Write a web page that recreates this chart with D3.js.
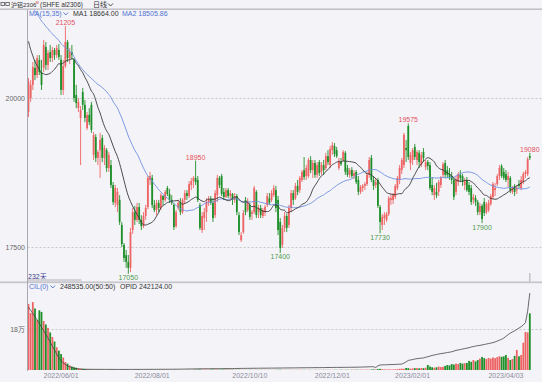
<!DOCTYPE html>
<html><head><meta charset="utf-8">
<script src="https://cdn.jsdelivr.net/npm/d3@7"></script>
<style>html,body{margin:0;padding:0;background:#f4f4f8;}svg{display:block;font-family:"Liberation Sans","Noto Sans CJK SC",Arial,sans-serif;}</style>
</head><body><svg id="c" width="542" height="382"></svg>
<script>
// ---------------- DATA ----------------
const openP=[19765,20000,20220,20505,20385,20640,20435,20505,20855,20555,20770,20670,20805,20720,20805,20640,20135,20535,20940,20670,20770,20640,20050,19830,19665,20100,19885,19495,19715,19885,19045,19345,18995,19125,19330,18995,19125,18825,18875,18540,18240,18205,18290,17870,17535,17365,17250,17150,17785,18085,17955,18170,17955,17850,18020,18170,18625,18660,18205,18120,18240,18155,18355,18290,18490,18390,18290,18205,17850,18155,18255,18085,18290,18405,18355,18540,18605,18660,18625,18205,17785,17985,18085,18255,18305,18240,18035,18370,18660,18690,18425,18340,18455,18355,18390,18290,18355,18035,17615,17750,18290,18120,18205,18055,18085,18425,18085,18155,18020,18085,18205,18320,18290,18370,18455,18290,17920,17535,17820,18020,17870,18155,18405,18320,18525,18455,18625,18790,18690,18690,18960,18790,18910,18710,18925,18760,18875,18825,19025,18875,19125,19195,19125,18825,18925,18960,19080,18825,18710,18790,18690,18760,18625,18425,18490,18525,18555,18710,18995,18625,18540,18625,18170,17870,17985,17955,18055,18290,18290,18340,18490,18625,18790,18875,19160,19530,18910,18960,19180,18960,19080,18875,19095,18840,18925,18875,18540,18370,18425,18425,18540,18710,18910,18790,18725,18690,18625,18425,18590,18710,18690,18540,18625,18540,18490,18290,18320,18255,18085,18190,18255,18085,18120,18220,18340,18455,18555,18690,18860,18760,18725,18625,18660,18425,18525,18455,18555,18490,18590,18725,18725,19025];
const highP=[20335,20300,20605,20640,20720,20720,20640,20975,20940,20805,20890,20855,20840,20890,20905,20720,20640,21205,20975,20840,20890,20670,20220,20000,19865,20170,19965,19765,19830,19935,19430,19395,19125,19415,19380,19210,19160,19095,18960,18590,18540,18490,18370,17920,17565,17450,17365,17820,18155,18190,18240,18240,18035,18085,18205,18690,18760,18710,18290,18290,18290,18405,18370,18455,18525,18475,18370,18240,18120,18290,18320,18320,18455,18455,18605,18660,18690,18950,18690,18240,18085,18155,18320,18355,18355,18320,18455,18710,18690,18725,18490,18490,18490,18455,18405,18405,18390,18085,17750,18120,18340,18320,18240,18120,18525,18455,18205,18205,18155,18205,18405,18405,18455,18540,18525,18355,17985,17870,18085,18055,18205,18455,18455,18575,18625,18690,18790,19010,18875,18995,19025,18960,18960,18925,18960,18925,18960,19080,19125,19195,19260,19245,19180,18995,18995,19125,19110,18875,18825,18840,18790,18790,18690,18540,18555,18590,18760,19010,19045,18690,18660,18660,18205,18055,18085,18085,18355,18390,18405,18555,18690,18875,18995,19415,19295,19575,19095,19160,19230,19125,19125,19095,19160,18960,18960,18925,18675,18540,18575,18625,18690,18925,18960,18860,18825,18760,18660,18690,18760,18790,18725,18660,18675,18590,18540,18390,18370,18290,18240,18220,18320,18255,18290,18390,18590,18575,18725,18875,18890,18825,18790,18760,18690,18525,18555,18540,18625,18690,18760,18790,19010,19080];
const lowP=[19680,19935,20135,20300,20335,20385,20135,20435,20470,20470,20605,20605,20640,20670,20640,20050,20050,20505,20605,20570,20640,19935,19830,19765,18875,19800,19595,19465,19545,19415,18960,18925,18875,18660,18925,18875,18760,18760,18490,18205,18170,18085,17870,17500,17250,17150,17050,17080,17720,17870,17920,17885,17785,17820,17955,18135,18540,18155,18085,18035,18085,18120,18205,18255,18355,18240,18205,17785,17820,18120,18035,18055,18220,18290,18320,18455,18490,18540,18255,17785,17735,17785,17920,18190,18205,17920,17985,18255,18490,18355,18290,18320,18320,18290,18205,18240,18035,17700,17585,17720,18035,18085,17955,17955,18055,17985,17985,17985,17985,18020,18170,18205,18255,18340,18085,17700,17400,17485,17750,17750,17820,18085,18205,18290,18370,18405,18590,18625,18625,18660,18740,18660,18660,18660,18690,18710,18710,18790,18875,18825,19045,19010,18995,18790,18860,18925,18710,18675,18660,18660,18640,18555,18370,18390,18425,18455,18525,18660,18590,18455,18490,18155,17730,17785,17870,17920,18020,18205,18220,18305,18455,18555,18725,18825,18925,18960,18790,18875,18960,18875,18825,18840,18925,18790,18790,18455,18370,18290,18320,18355,18490,18675,18660,18660,18625,18555,18290,18370,18525,18590,18525,18455,18425,18370,18205,18220,18190,18035,18035,17900,18020,18055,18085,18190,18305,18355,18525,18625,18660,18625,18590,18505,18405,18390,18355,18390,18490,18455,18555,18660,18690,18960];
const closeP=[20270,20220,20520,20385,20670,20435,20220,20890,20555,20755,20670,20805,20720,20840,20690,20135,20535,20940,20670,20770,20720,20000,19915,19935,19800,19885,19665,19715,19595,19465,19380,18995,19095,19295,18995,19160,18825,19045,18540,18255,18490,18425,17920,17550,17315,17250,17150,17750,18085,17955,18170,17955,17850,18020,18155,18660,18690,18205,18120,18240,18155,18370,18290,18425,18390,18290,18240,17835,18085,18240,18085,18290,18405,18355,18555,18605,18660,18590,18290,17820,18020,18085,18255,18305,18240,17985,18405,18660,18540,18390,18340,18455,18355,18405,18290,18355,18085,17750,17700,18070,18085,18270,18005,18085,18490,18035,18155,18035,18120,18170,18355,18240,18405,18490,18155,17785,17485,17820,18020,17820,18155,18405,18290,18525,18425,18660,18760,18675,18825,18960,18790,18910,18710,18875,18740,18875,18790,19025,18925,19145,19210,19060,19025,18945,18890,19095,18760,18710,18790,18690,18740,18590,18425,18505,18525,18555,18710,18960,18625,18525,18590,18190,17920,18005,18035,18055,18320,18320,18370,18525,18660,18825,18960,19380,19125,19010,19045,19125,19010,19095,18925,19045,18995,18925,18860,18490,18425,18490,18370,18590,18660,18890,18710,18710,18675,18625,18340,18625,18725,18660,18590,18605,18455,18425,18255,18340,18255,18085,18190,17970,18070,18220,18240,18355,18555,18490,18690,18825,18690,18660,18625,18690,18455,18490,18425,18490,18525,18625,18725,18760,18975,18995];
// closes before the visible window (used only to seed the moving averages)
const priorCloses=[22500,22650,22400,22550,22300,22450,22200,22350,22150,22300,22050,22200,21950,22100,21850,22000,21800,21900,21700,21850,22300,22100,21900,21600,21400,21200,21000,20800,20600,20500,20300,20200,20100,20000];
const volume=[290000,250000,298000,270000,220000,262000,255000,215000,200000,185000,165000,145000,125000,100000,85000,70000,55000,35000,28000,20000,15000,12000,10000,8000,6000,5000,4000,
3000,2000,2000,1500,1500,1000,1200,1000,800,900,
700,800,600,900,700,600,800,1000,900,1200,
800,700,600,500,700,600,500,600,700,500,
400,500,600,400,500,400,300,500,400,300,
400,300,500,400,300,400,500,600,800,1500,
2000,1800,2200,1600,1800,2000,1700,1900,1600,1800,
2000,1500,1700,1900,1600,1400,1800,1600,1200,900,
800,700,900,600,700,800,600,700,900,800,
700,600,800,900,700,800,600,900,1000,1500,
900,800,700,900,800,700,900,800,1000,900,
800,700,900,800,700,800,900,700,800,1000,
900,800,700,900,1000,800,900,1100,1000,900,
1100,1000,1200,1100,1300,1200,1500,1400,1300,1600,1500,
2000,3000,2500,4000,5000,3500,3000,2500,3000,2000,
2500,3000,4000,5000,6000,5000,9000,8000,6000,7000,
8000,9000,7000,9000,8000,10000,22000,15000,12000,10000,
12000,15000,13000,14000,18000,22000,20000,26000,24000,28000,
26000,31000,28000,30000,31000,40000,36000,44000,38000,44000,
50000,57000,52000,48000,53000,50000,55000,52000,57000,60000,
58000,60000,66000,53000,44000,48000,62000,88000,60000,66000,
120000,167000,165000,248535];
const openInterest=[276000,262000,248000,234000,220000,204000,188000,172000,156000,140000,122000,105000,88000,70000,52000,40000,31000,24000,18000,14000,11000,8000,6000,5000,4000,
3500,3300,3200,3100,3000,3000,2900,2900,2800,2800,
2800,2700,2700,2700,2600,2600,2600,2600,2500,2500,
2500,2500,2600,2600,2700,2700,2700,2800,2800,2800,
2900,2900,3000,3000,3000,3100,3100,3200,3200,3300,
3300,3400,3400,3500,3600,3700,3800,4000,4200,4400,
4600,4800,5000,5200,5300,5400,5500,5600,5600,5700,
5800,5800,5900,6000,6000,6100,6200,6200,6300,6400,
6500,6600,6800,7000,7100,7200,7300,7400,7500,7600,
7700,7800,7900,8000,8000,8100,8200,8300,8400,8500,
8600,8700,8800,8900,9000,9100,9200,9300,9400,9500,
9600,9700,9800,9900,10000,10100,10200,10300,10400,10500,
10600,10700,10800,10900,11000,11100,11200,11300,11400,11500,
11600,11700,11800,11900,12000,12100,12300,12500,12800,13000,
13300,13600,14000,14500,14000,11000,18000,22000,22500,23000,
23000,23500,24000,24000,24500,25000,25500,26000,30000,36000,
42000,44000,46000,48000,50000,51000,52000,53000,56000,58000,
61000,64000,66000,68000,70000,72000,73000,75000,77000,78000,
80000,83000,86000,88000,90000,92000,94000,96000,98000,101000,
103000,105000,107000,108000,110000,112000,114000,116000,118000,120000,
123000,127000,131000,135000,140000,148000,155000,162000,167000,172000,
178000,184000,190000,198000,208000,258000,338000];
const priceTicks=[17500,20000];
const volTicks=[180000];
const volTickLabels=["18万"];
const dateLabels=["2022/06/01","2022/08/01","2022/10/10","2022/12/01","2023/02/01","2023/04/03"];
const dateIndex=[15,57,102,140,177,220];
const highMarks=[17,77,175,231];
const lowMarks=[46,116,162,209];
const maPeriods=[15,35];
const maLegendValues=[18664.00,18505.86];
const opid=242124.00;

// ---------------- DRAW ----------------
const N=closeP.length;
const svg=d3.select("#c");
const UP="#ee6464", DN="#1f8f2a";
svg.append("rect").attr("width",542).attr("height",382).attr("fill","#f4f4f8");

const x=d3.scaleBand().domain(d3.range(N)).range([27.4,530.9]).padding(0);
const cx=i=>x(i)+x.bandwidth()/2;
const y=d3.scaleLinear().domain([17500,20000]).range([247,98]);
const yv=d3.scaleLinear().domain([0,180000]).range([370,329]);

// header (single text element with tspans)
const hd=svg.append("g");
hd.append("rect").attr("x",1).attr("y",2.5).attr("width",3.5).attr("height",3).attr("fill","none").attr("stroke","#555").attr("stroke-width",0.8);
hd.append("rect").attr("x",5.8).attr("y",2.5).attr("width",3.5).attr("height",3).attr("fill","none").attr("stroke","#555").attr("stroke-width",0.8);
const ht=hd.append("text").attr("y",7).attr("fill","#333");
ht.append("tspan").attr("x",11).attr("font-size",6).text("沪铝2306");
ht.append("tspan").attr("x",35.5).attr("dy",-3).attr("font-size",4).attr("fill","#c44").text("M");
ht.append("tspan").attr("x",40).attr("dy",3).attr("font-size",6.5).text("(SHFE al2306)");
ht.append("tspan").attr("x",93).attr("font-size",7).text("日线");
hd.append("path").attr("d","M108,3.5 L110.5,6 L113,3.5").attr("fill","none").attr("stroke","#333").attr("stroke-width",0.9);
svg.append("rect").attr("x",0).attr("y",8.4).attr("width",542).attr("height",1.6).attr("fill","#c2c2c8");

// grid lines
const grid=svg.append("g");
priceTicks.forEach(v=>grid.append("line").attr("x1",27.5).attr("x2",542).attr("y1",Math.round(y(v))+0.5).attr("y2",Math.round(y(v))+0.5).attr("stroke","#c6c6cc").attr("stroke-dasharray","2,2"));
volTicks.forEach(v=>grid.append("line").attr("x1",27.5).attr("x2",542).attr("y1",Math.round(yv(v))+0.5).attr("y2",Math.round(yv(v))+0.5).attr("stroke","#c6c6cc").attr("stroke-dasharray","2,2"));

// axes labels
const ya=svg.append("g").attr("transform","translate(26,0)").call(d3.axisLeft(y).tickValues(priceTicks).tickSize(0).tickPadding(1).tickFormat(d3.format("d")));
ya.select(".domain").remove();
ya.selectAll("text").attr("font-size",7).attr("fill","#666").attr("font-family","Liberation Sans, Arial, sans-serif");
const yva=svg.append("g").attr("transform","translate(26,0)").call(d3.axisLeft(yv).tickValues(volTicks).tickSize(0).tickPadding(1).tickFormat((d,i)=>volTickLabels[i]));
yva.select(".domain").remove();
yva.selectAll("text").attr("font-size",7).attr("fill","#666").attr("font-family","Liberation Sans, Noto Sans CJK SC, sans-serif");
const xa=svg.append("g").attr("transform","translate(0,372)").call(d3.axisBottom(x).tickValues(dateIndex).tickSize(0).tickPadding(1).tickFormat(d=>dateLabels[dateIndex.indexOf(d)]));
xa.select(".domain").remove();
xa.selectAll("text").attr("font-size",7).attr("fill","#8a8a9a").attr("font-family","Liberation Sans, Arial, sans-serif");

// clip
const defs=svg.append("defs");
defs.append("clipPath").attr("id","pc").append("rect").attr("x",27.5).attr("y",10).attr("width",515).attr("height",271);
defs.append("clipPath").attr("id","vc").append("rect").attr("x",27.5).attr("y",284).attr("width",515).attr("height",90);

// candles
const pg=svg.append("g").attr("clip-path","url(#pc)");
const idx=d3.range(N);
pg.selectAll("line.w").data(idx).enter().append("line")
  .attr("x1",i=>cx(i)).attr("x2",i=>cx(i)).attr("y1",i=>y(highP[i])).attr("y2",i=>y(lowP[i]))
  .attr("stroke",i=>closeP[i]>=openP[i]?UP:DN).attr("stroke-width",0.9);
pg.selectAll("rect.b").data(idx).enter().append("rect")
  .attr("x",i=>cx(i)-0.9).attr("width",1.8)
  .attr("y",i=>y(Math.max(openP[i],closeP[i])))
  .attr("height",i=>Math.max(0.8,Math.abs(y(openP[i])-y(closeP[i]))))
  .attr("fill",i=>closeP[i]>=openP[i]?UP:DN);

// moving averages
const all=priorCloses.concat(closeP);
const P=priorCloses.length;
function ma(n){return idx.map(i=>d3.mean(all.slice(i+P-n+1,i+P+1)));}
const ma1=ma(maPeriods[0]), ma2=ma(maPeriods[1]);
const ln=d3.line().x((d,i)=>cx(i)).y(d=>y(d)).curve(d3.curveMonotoneX);
pg.append("path").attr("d",ln(ma2)).attr("fill","none").attr("stroke","#6f8fe0").attr("stroke-width",0.9);
pg.append("path").attr("d",ln(ma1)).attr("fill","none").attr("stroke","#3a3a3a").attr("stroke-width",0.9);

// marks
const fmt=d3.format("d");
highMarks.forEach(i=>pg.append("text").attr("x",cx(i)).attr("y",y(highP[i])-1).attr("text-anchor","middle").attr("font-size",7).attr("fill","#e4505c").text(fmt(highP[i])));
lowMarks.forEach(i=>pg.append("text").attr("x",cx(i)).attr("y",y(lowP[i])+6.5).attr("text-anchor","middle").attr("font-size",7).attr("fill","#4e9a4e").text(fmt(lowP[i])));

// MA legend
const lg=svg.append("g").attr("font-size",7);
lg.append("text").attr("x",29).attr("y",16).attr("fill","#4f72d2").text("MA("+maPeriods.join(",")+")");
lg.append("path").attr("d","M63.5,12.5 L65.8,15 L68.1,12.5").attr("fill","none").attr("stroke","#4f72d2").attr("stroke-width",0.9);
lg.append("text").attr("x",73).attr("y",16).attr("fill","#333").text("MA1 "+maLegendValues[0].toFixed(2));
lg.append("text").attr("x",122).attr("y",16).attr("fill","#4f72d2").text("MA2 "+maLegendValues[1].toFixed(2));

// bottom of price panel
svg.append("text").attr("x",28).attr("y",278.5).attr("font-size",7).attr("fill","#3a3a8a").text(N+"天");
svg.append("rect").attr("x",27.5).attr("y",279).attr("width",54).attr("height",2.5).attr("fill","#d2d2d6");
svg.append("rect").attr("x",0).attr("y",281.4).attr("width",542).attr("height",1.8).attr("fill","#c6c6cc");
svg.append("line").attr("x1",cx(N-1)).attr("x2",cx(N-1)).attr("y1",273).attr("y2",281.5).attr("stroke","#999").attr("stroke-width",0.8);

// volume panel
const vg=svg.append("g").attr("clip-path","url(#vc)");
vg.selectAll("rect.v").data(idx).enter().append("rect")
  .attr("x",i=>cx(i)-0.9).attr("width",1.8)
  .attr("y",i=>yv(volume[i])).attr("height",i=>yv(0)-yv(volume[i]))
  .attr("fill",i=>closeP[i]>=openP[i]?UP:DN);
vg.append("path").attr("d",d3.line().x((d,i)=>cx(i)).y(d=>yv(d))(openInterest)).attr("fill","none").attr("stroke","#444").attr("stroke-width",0.8);

const vl=svg.append("g").attr("font-size",7);
vl.append("text").attr("x",29).attr("y",289).attr("fill","#4f72d2").text("CIL(0)");
vl.append("path").attr("d","M50.5,285.5 L52.8,288 L55.1,285.5").attr("fill","none").attr("stroke","#4f72d2").attr("stroke-width",0.9);
vl.append("text").attr("x",60).attr("y",289).attr("fill","#333").text(volume[N-1].toFixed(2)+"(50:50)");
vl.append("text").attr("x",120).attr("y",289).attr("fill","#333").text("OPID "+opid.toFixed(2));

// left axis line
svg.append("line").attr("x1",27.5).attr("x2",27.5).attr("y1",10).attr("y2",371).attr("stroke","#a8a8b0").attr("stroke-width",1);
</script></body></html>
